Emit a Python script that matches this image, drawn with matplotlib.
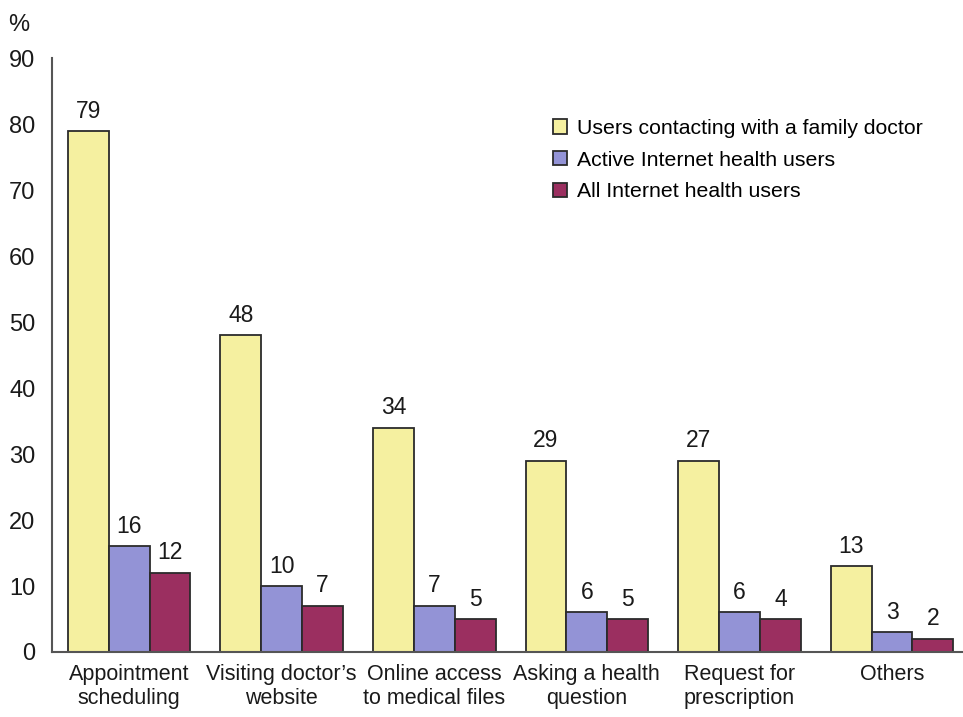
import matplotlib
matplotlib.use("Agg")
import matplotlib.pyplot as plt
from matplotlib.patches import Patch
import numpy as np

plt.rcParams['font.family'] = ['Liberation Sans', 'DejaVu Sans']

categories = ["Appointment\nscheduling", "Visiting doctor\u2019s\nwebsite",
              "Online access\nto medical files", "Asking a health\nquestion",
              "Request for\nprescription", "Others"]
series = ["Users contacting with a family doctor",
          "Active Internet health users",
          "All Internet health users"]
# bar heights as drawn
family_doctor = [79, 48, 34, 29, 29, 13]
active_users = [16, 10, 7, 6, 6, 3]
all_users = [12, 7, 5, 5, 5, 2]
# printed value labels
family_doctor_lbl = [79, 48, 34, 29, 27, 13]
active_users_lbl = [16, 10, 7, 6, 6, 3]
all_users_lbl = [12, 7, 5, 5, 4, 2]

colors = ["#f5f0a0", "#9393d6", "#9b2f60"]
edge = "#2b2b2b"

fig = plt.figure(figsize=(9.63, 7.17), dpi=100)
ax = fig.add_axes([0.054, 0.0907, 0.946, 0.828])

x = np.arange(len(categories))
w = 0.268
data = [family_doctor, active_users, all_users]
labels = [family_doctor_lbl, active_users_lbl, all_users_lbl]
for k in range(3):
    pos = x + (k - 1) * w
    ax.bar(pos, data[k], width=w, color=colors[k], edgecolor=edge, linewidth=1.3)
    for px, h, l in zip(pos, data[k], labels[k]):
        ax.annotate(str(l), (px, h), xytext=(0, 6), textcoords="offset points",
                    ha="center", va="bottom", fontsize=16.5, color="#1a1a1a")

ax.set_xlim(-0.505, 5.465)
ax.set_ylim(0, 90)
ax.set_yticks(range(0, 91, 10))
ax.set_xticks(x)
ax.set_xticklabels(categories, fontsize=15.5, linespacing=1.15)
ax.tick_params(axis="both", length=0, colors="#1a1a1a")
ax.tick_params(axis="y", labelsize=17, pad=12)
ax.tick_params(axis="x", pad=9)
for s in ["top", "right"]:
    ax.spines[s].set_visible(False)
for s in ["left", "bottom"]:
    ax.spines[s].set_color("#555555")
    ax.spines[s].set_linewidth(1.5)

handles = [Patch(facecolor=c, edgecolor=edge, linewidth=1.3) for c in colors]
ax.legend(handles, series, loc="upper left", bbox_to_anchor=(0.529, 0.93),
          frameon=False, fontsize=15.3, handlelength=0.65, handleheight=0.65,
          handletextpad=0.5, labelspacing=0.6)

fig.text(0.008, 0.957, "%", fontsize=17, color="#1a1a1a")

fig.savefig("out.png", dpi=100)
